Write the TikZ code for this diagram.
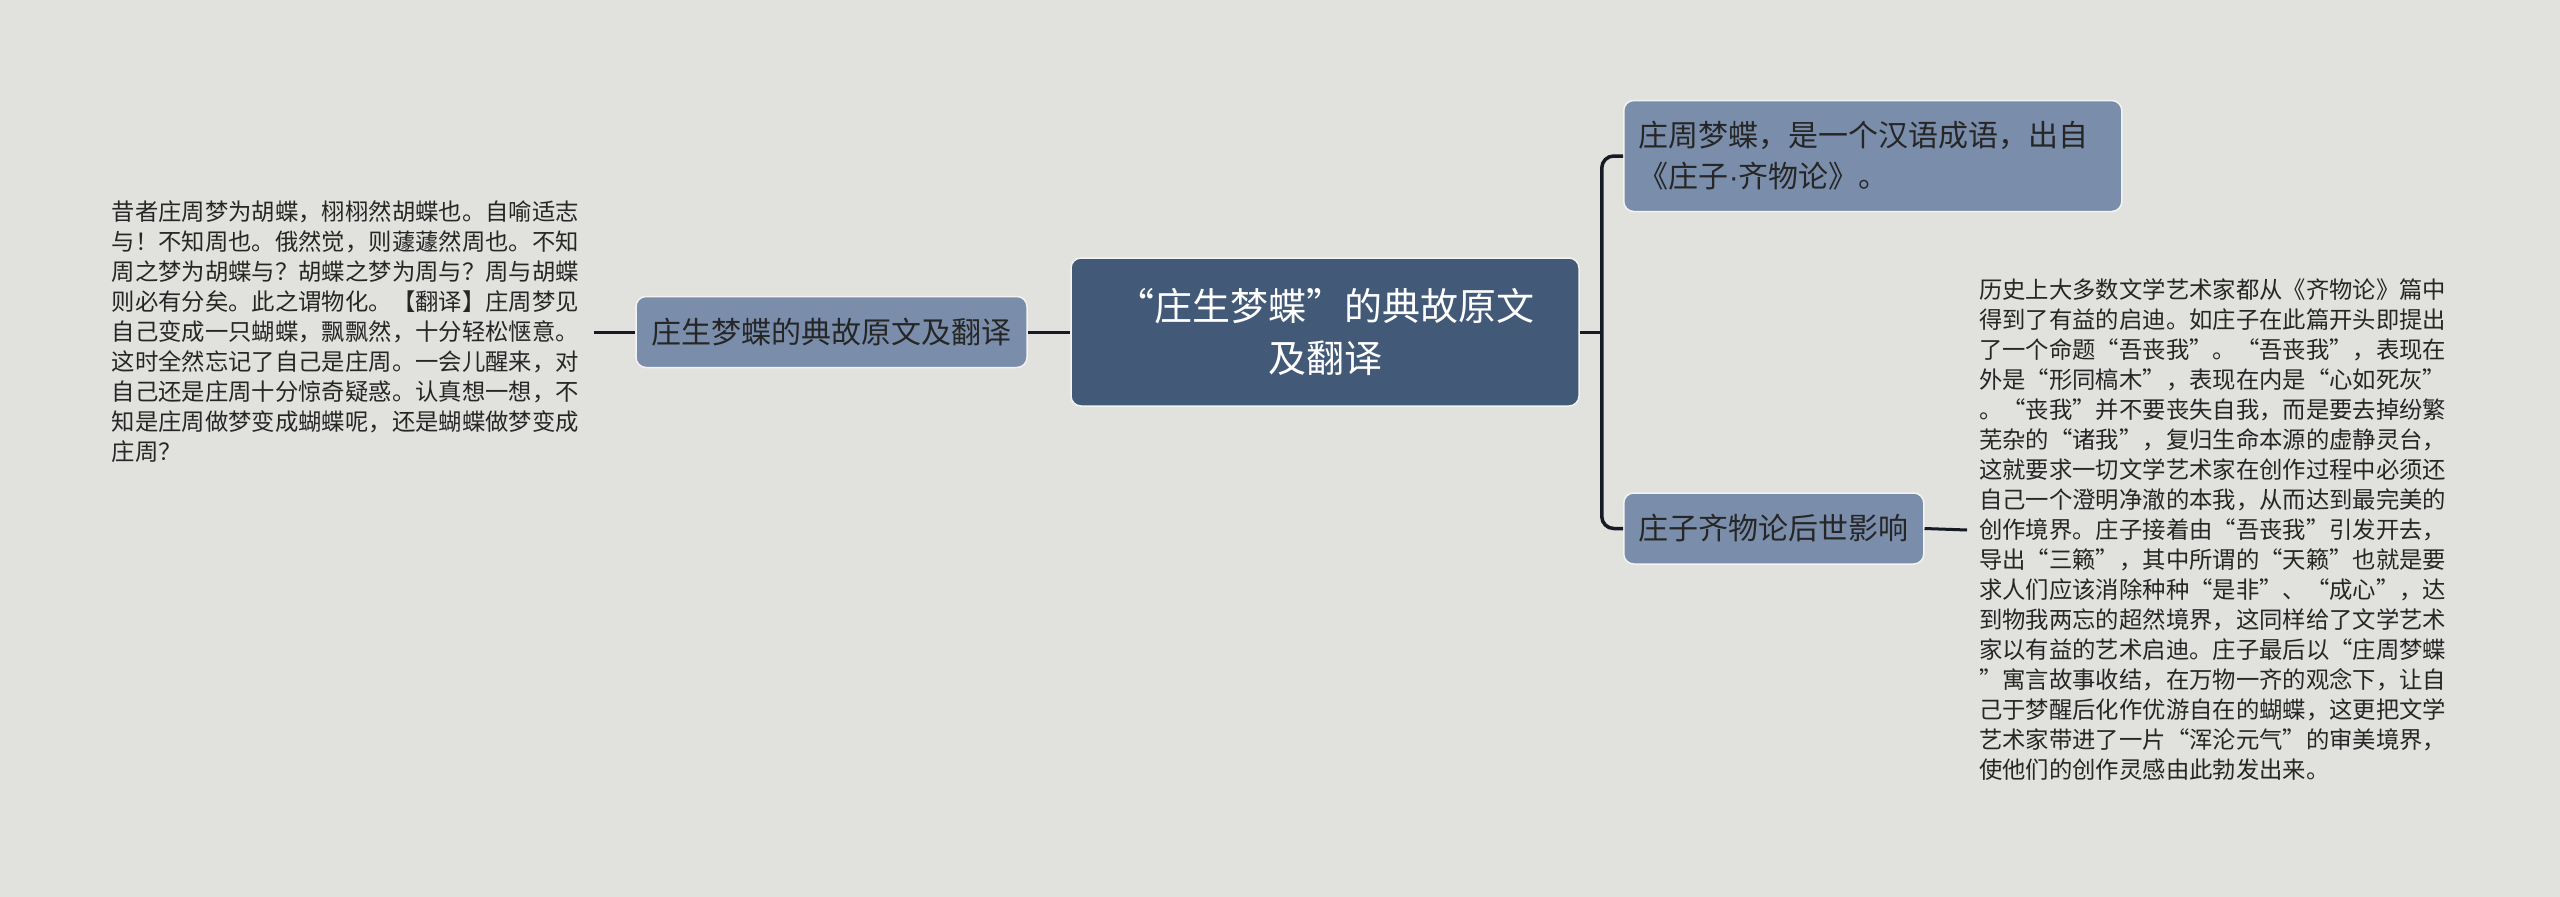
\documentclass[tikz,border=0pt]{standalone}
\usepackage{fontspec}
\setmainfont{Noto Sans CJK SC}
\newfontfamily\latinfont{Liberation Sans}
\usepackage{tikz}
\usetikzlibrary{positioning}
\definecolor{bgcolor}{RGB}{225,226,222}
\definecolor{topiccolor}{RGB}{66,89,120}
\definecolor{branchcolor}{RGB}{122,142,172}
\definecolor{linecolor}{RGB}{22,26,36}
\definecolor{inkcolor}{RGB}{38,38,38}

\begin{document}
\begin{tikzpicture}[
        x=1pt, y=-1pt,
        topic/.style={rectangle, rounded corners=10pt, draw=white!60!bgcolor, line width=1.5pt, fill=topiccolor, text=white, minimum width=508pt, minimum height=148pt, align=center, font=\fontsize{38}{52}\selectfont},
        branch/.style={rectangle, rounded corners=10pt, draw=white!60!bgcolor, line width=1.5pt, fill=branchcolor, text=inkcolor, minimum height=71pt, inner xsep=15pt, font=\fontsize{30}{41}\selectfont},
        note/.style={inner xsep=12pt, inner ysep=0pt, text=inkcolor, align=left, text width=470pt, font=\fontsize{23.35}{30}\selectfont},
        link/.style={draw=linecolor, line width=3pt}
    ]
        \fill[bgcolor] (0,0) rectangle (2560,897);

        \node[topic] (topic) at (1325,332) {“庄生梦蝶”的典故原文\\及翻译};

        % left side
        \node[branch, minimum width=391pt] (origin) at (831.5,332) {庄生梦蝶的典故原文及翻译};
        \node[note, anchor=east] (originnote) at (594,332) {昔者庄周梦为胡蝶，栩栩然胡蝶也。自喻适志\\
            与！不知周也。俄然觉，则蘧蘧然周也。不知\\
            周之梦为胡蝶与？胡蝶之梦为周与？周与胡蝶\\
            则必有分矣。此之谓物化。【翻译】庄周梦见\\
            自己变成一只蝴蝶，飘飘然，十分轻松惬意。\\
            这时全然忘记了自己是庄周。一会儿醒来，对\\
            自己还是庄周十分惊奇疑惑。认真想一想，不\\
            知是庄周做梦变成蝴蝶呢，还是蝴蝶做梦变成\\
            庄周？};

        % right side
        \node[branch, minimum height=111pt, text width=468pt, align=left, anchor=west] (idiom) at (1623,156) {庄周梦蝶，是一个汉语成语，出自\\《庄子{\latinfont ·}齐物论》。};
        \node[branch, anchor=west] (influence) at (1623,528.5) {庄子齐物论后世影响};
        \node[note, anchor=west] (influencenote) at (1967,530) {历史上大多数文学艺术家都从《齐物论》篇中\\
            得到了有益的启迪。如庄子在此篇开头即提出\\
            了一个命题“吾丧我”。“吾丧我”，表现在\\
            外是“形同槁木”，表现在内是“心如死灰”\\
            。“丧我”并不要丧失自我，而是要去掉纷繁\\
            芜杂的“诸我”，复归生命本源的虚静灵台，\\
            这就要求一切文学艺术家在创作过程中必须还\\
            自己一个澄明净澈的本我，从而达到最完美的\\
            创作境界。庄子接着由“吾丧我”引发开去，\\
            导出“三籁”，其中所谓的“天籁”也就是要\\
            求人们应该消除种种“是非”、“成心”，达\\
            到物我两忘的超然境界，这同样给了文学艺术\\
            家以有益的艺术启迪。庄子最后以“庄周梦蝶\\
            ”寓言故事收结，在万物一齐的观念下，让自\\
            己于梦醒后化作优游自在的蝴蝶，这更把文学\\
            艺术家带进了一片“浑沦元气”的审美境界，\\
            使他们的创作灵感由此勃发出来。};

        % connectors
        \coordinate (fork) at ([xshift=22pt]topic.east);
        \draw[link] (origin.east) -- (topic.west);
        \draw[link] (originnote.east) -- (origin.west);
        \draw[link] (topic.east) -- (fork);
        \draw[link, line width=3.5pt, rounded corners=12pt] (idiom.west) -| (fork) |- (influence.west);
        \draw[link] (influence.east) -- (influencenote.west);
    \end{tikzpicture}
\end{document}
